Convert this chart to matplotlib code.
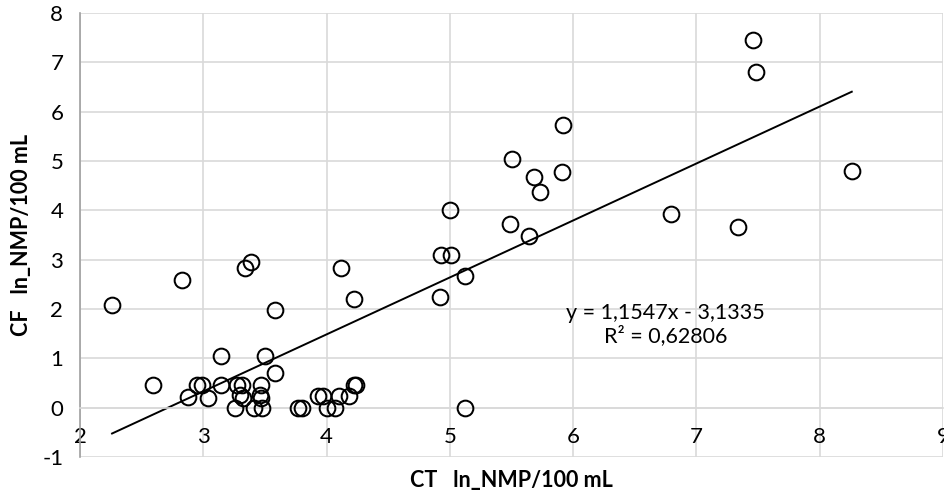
import numpy as np
import matplotlib
matplotlib.use("Agg")
import matplotlib.pyplot as plt

plt.rcParams['font.family'] = ['Lato', 'DejaVu Sans']
plt.rcParams['axes.unicode_minus'] = False

# CT vs CF, ln(NMP/100 mL)
ct = [2.26, 2.59, 2.83, 2.88, 2.95, 2.99, 3.04, 3.14, 3.14, 3.27,
      3.31, 3.30, 3.32, 3.26, 3.34, 3.39, 3.41, 3.47, 3.46, 3.47,
      3.48, 3.50, 3.58, 3.58, 3.77, 3.80, 3.93, 3.97, 4.00, 4.07,
      4.10, 4.12, 4.18, 4.22, 4.24, 4.22, 4.92, 4.93, 5.00, 5.01,
      5.12, 5.12, 5.49, 5.50, 5.64, 5.68, 5.73, 5.91, 5.92, 6.79,
      7.34, 7.46, 7.48, 8.26]
cf = [2.08, 0.46, 2.59, 0.22, 0.46, 0.46, 0.20, 1.05, 0.46, 0.46,
      0.46, 0.25, 0.19, 0.00, 2.84, 2.96, 0.00, 0.46, 0.25, 0.19,
      0.00, 1.05, 1.98, 0.71, 0.00, 0.00, 0.23, 0.23, 0.00, 0.00,
      0.23, 2.84, 0.23, 0.46, 0.46, 2.20, 2.25, 3.09, 4.01, 3.09,
      2.67, 0.00, 3.72, 5.05, 3.47, 4.68, 4.37, 4.78, 5.73, 3.92,
      3.67, 7.45, 6.80, 4.80]

slope = 1.1547
intercept = -3.1335
r2 = "0,62806"

x_ticks = [2, 3, 4, 5, 6, 7, 8, 9]
y_ticks = [-1, 0, 1, 2, 3, 4, 5, 6, 7, 8]

fig = plt.figure(figsize=(9.44, 4.91), dpi=100)
ax = fig.add_axes([80 / 944, 34 / 491, 863 / 944, 444 / 491])

grid_c = "#d9d9d9"
ax.set_xlim(2, 9)
ax.set_ylim(-1, 8)
ax.set_xticks(x_ticks)
ax.set_yticks(y_ticks)
ax.grid(True, color=grid_c, linewidth=1.2, zorder=0)
ax.set_axisbelow(True)

# Excel style: horizontal axis crosses at y = 0
ax.spines['bottom'].set_position(('data', 0))
ax.spines['bottom'].set_color(grid_c)
ax.spines['bottom'].set_linewidth(1.2)
ax.spines['top'].set_visible(False)
ax.spines['right'].set_visible(False)
ax.spines['left'].set_color("#a0a0a0")
ax.spines['left'].set_linewidth(1.2)
ax.tick_params(axis='both', length=0, labelsize=16, colors="#000000")
ax.tick_params(axis='x', pad=14)
ax.tick_params(axis='y', pad=12)

ax.plot(ct, cf, 'o', markersize=11.3, markerfacecolor='none',
        markeredgecolor='black', markeredgewidth=1.45, zorder=3)

xs = np.array([min(ct), max(ct)])
ax.plot(xs, slope * xs + intercept, color='black', linewidth=1.4, zorder=2)

ax.text(6.75, 1.68, "y = 1,1547x - 3,1335\nR² = " + r2, ha='center', va='center',
        fontsize=15.5, linespacing=1.1)

fig.text(511 / 944, 1 - 480 / 491, "CT   ln_NMP/100 mL", ha='center', va='center',
         fontsize=15.5, fontweight='bold')
fig.text(22 / 944, 1 - 235 / 491, "CF   ln_NMP/100 mL", ha='center', va='center',
         rotation=90, fontsize=15.5, fontweight='bold')

fig.savefig("out.png", dpi=100)
